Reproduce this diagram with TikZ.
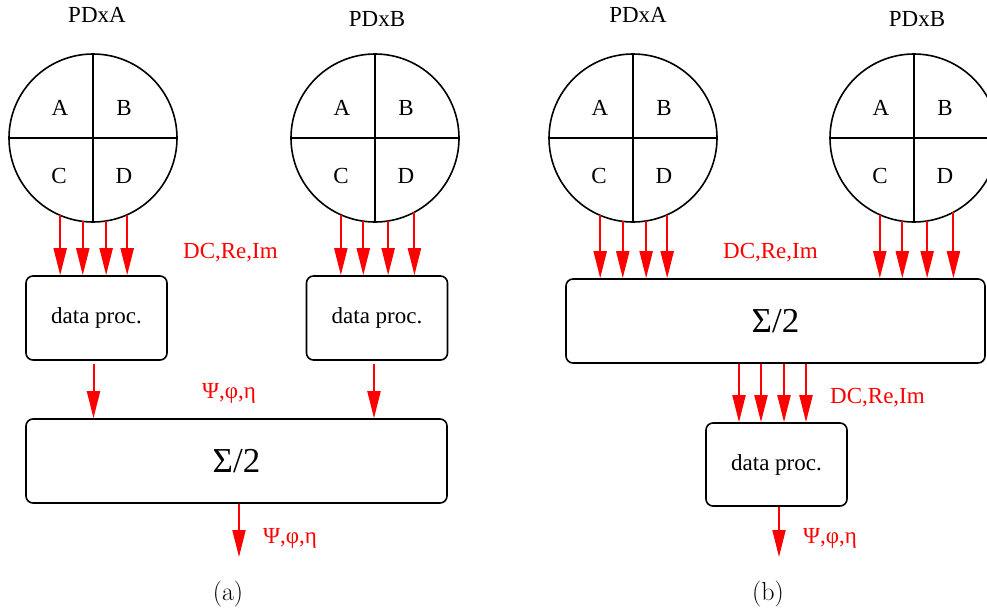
\documentclass[tikz,border=0pt]{standalone}
\usepackage{fontspec}
\newfontfamily\tms{Liberation Serif}
\usetikzlibrary{arrows.meta}

\tikzset{
  pdx/.style={draw, circle, line width=1.6pt, minimum size=168pt, inner sep=0pt, outer sep=0pt},
  procbox/.style={draw, rounded corners=7pt, line width=1.6pt, minimum width=141pt, minimum height=84pt,
    inner sep=0pt, font=\tms\fontsize{23}{27}\selectfont},
  sumbox/.style={procbox, minimum width=421pt, font=\tms\fontsize{35}{40}\selectfont},
  sig/.style={red, line width=2pt, -{Triangle[length=27pt,width=13pt]}},
  lbl/.style={font=\tms\fontsize{23}{27}\selectfont, inner sep=0pt},
  siglbl/.style={lbl, red},
}

\begin{document}
\begin{tikzpicture}[x=1pt, y=-1pt]
  \useasboundingbox (0,0) rectangle (987,613);

  % (a)
  \node[pdx] (detA1) at (93,138) {};
  \node[pdx] (detB1) at (375,138) {};
  \node[lbl, anchor=base] (tA1) at (97,23) {PDxA};
  \node[lbl, anchor=base] (tB1) at (377,27) {PDxB};
  \node[procbox] (proc1) at (96.5,318) {data proc.};
  \node[procbox] (proc2) at (377,318) {data proc.};
  \node[sumbox] (sum1) at (236.5,461) {Σ/2};

  % (b)
  \node[pdx] (detA2) at (633,138) {};
  \node[pdx] (detB2) at (914,138) {};
  \node[lbl, anchor=base] (tA2) at (638,23) {PDxA};
  \node[lbl, anchor=base] (tB2) at (917,26) {PDxB};
  \node[sumbox, minimum width=419pt] (sum2) at (775.5,321) {Σ/2};
  \node[procbox, minimum height=83pt] (proc3) at (776.5,464.5) {data proc.};

  % quadrants
  \foreach \c in {detA1, detB1, detA2, detB2} {
    \draw[line width=1.6pt] (\c.north) -- (\c.south);
    \draw[line width=1.6pt] (\c.west) -- (\c.east);
    \node[lbl, anchor=base] (\c-a) at ([shift={(-33pt,23pt)}]\c.center) {A};
    \node[lbl, anchor=base] (\c-b) at ([shift={(31pt,23pt)}]\c.center) {B};
    \node[lbl, anchor=base] (\c-c) at ([shift={(-34pt,-45pt)}]\c.center) {C};
    \node[lbl, anchor=base] (\c-d) at ([shift={(31pt,-45pt)}]\c.center) {D};
  }

  % signals (a)
  \foreach \a in {-113, -97.5, -81.8, -66} { \draw[sig] (detA1.\a) -- (detA1.\a |- proc1.north); }
  \foreach \a in {-114, -98.2, -81.1, -62.3} { \draw[sig] (detB1.\a) -- (detB1.\a |- proc2.north); }
  \draw[sig, shorten <=3pt] ([xshift=-3pt]proc1.south) -- ([xshift=-3pt]proc1.south |- sum1.north);
  \draw[sig, shorten <=3pt] ([xshift=-3pt]proc2.south) -- ([xshift=-3pt]proc2.south |- sum1.north);
  \coordinate (out1) at (239,557);
  \draw[sig] (sum1.south -| out1) -- (out1);

  \node[siglbl, anchor=base west] (dc1) at (183,258) {DC,Re,Im};
  \node[siglbl, anchor=base] (ang1) at (229,398) {Ψ,φ,η};
  \node[siglbl, anchor=base west] (ang2) at (263,543) {Ψ,φ,η};

  % signals (b)
  \foreach \a in {-113, -97.5, -81.8, -66} { \draw[sig] (detA2.\a) -- (detA2.\a |- sum2.north); }
  \foreach \a in {-114, -98.2, -81.1, -62.3} { \draw[sig] (detB2.\a) -- (detB2.\a |- sum2.north); }
  \foreach \dx in {-36.5, -14.5, 8.5, 30.5} {
    \draw[sig] ([xshift=\dx pt]sum2.south) -- ([xshift=\dx pt]sum2.south |- proc3.north);
  }
  \coordinate (out2) at (779,557);
  \draw[sig] (proc3.south -| out2) -- (out2);

  \node[siglbl, anchor=base west] (dc2) at (723,258) {DC,Re,Im};
  \node[siglbl, anchor=base west] (dc3) at (830,403) {DC,Re,Im};
  \node[siglbl, anchor=base west] (ang3) at (803,543) {Ψ,φ,η};

  % captions
  \node[anchor=base, inner sep=0pt, font=\fontsize{26}{30}\selectfont] (capa) at (228,600) {(a)};
  \node[anchor=base, inner sep=0pt, font=\fontsize{26}{30}\selectfont] (capb) at (768,600) {(b)};
\end{tikzpicture}
\end{document}
